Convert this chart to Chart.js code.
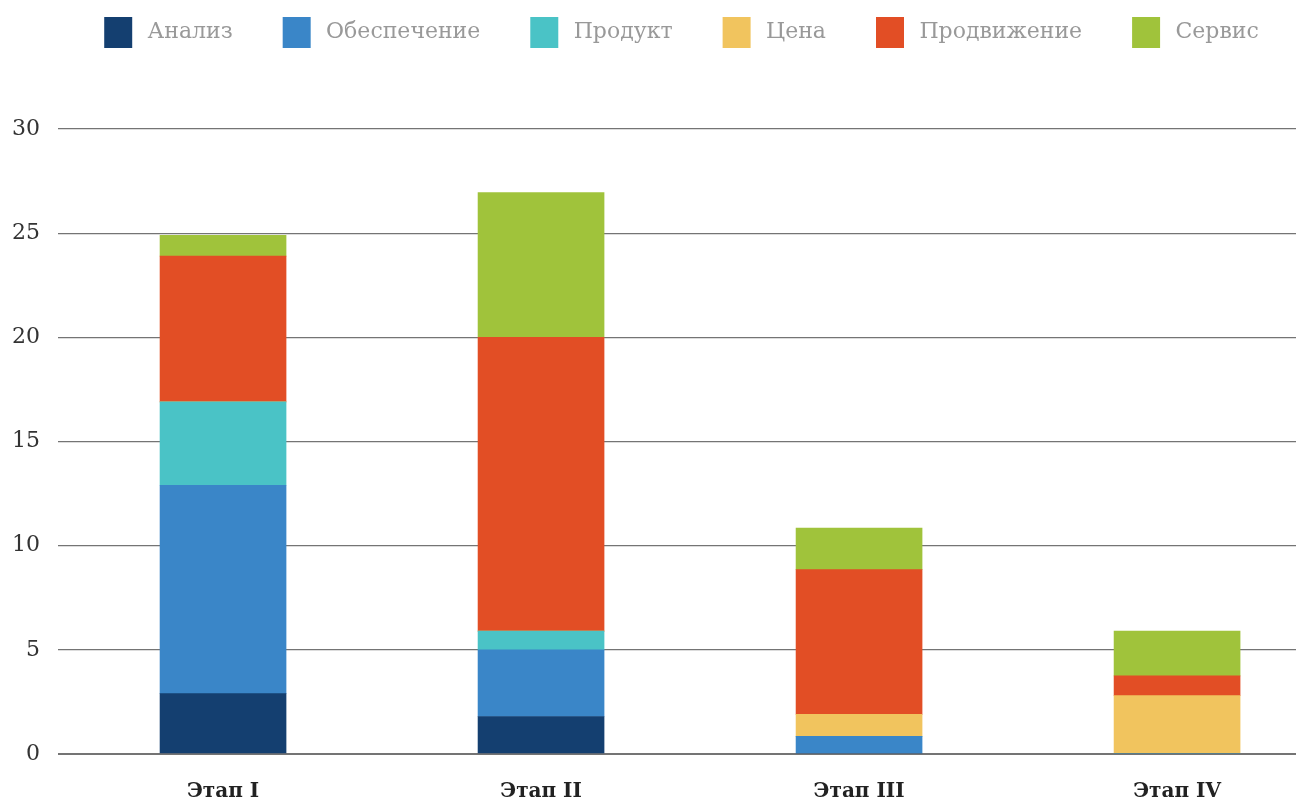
<!DOCTYPE html>
<html>
<head>
<meta charset="utf-8">
<script src="https://cdn.jsdelivr.net/npm/chart.js@4/dist/chart.umd.min.js"></script>
<style>
  html, body { margin: 0; padding: 0; background: #fff; overflow: hidden; }
</style>
</head>
<body>
<canvas id="chart" width="1296" height="800"></canvas>
<script>
// Data
const stages = ['Этап I', 'Этап II', 'Этап III', 'Этап IV'];
const analysis = [2.9, 1.8, 0, 0];
const support = [10, 3.2, 0.85, 0];
const product = [4, 0.9, 0, 0];
const price = [0, 0, 1.05, 2.8];
const promotion = [7, 14.1, 6.95, 0.95];
const service = [1, 6.95, 2, 2.15];
const yTicks = [0, 5, 10, 15, 20, 25, 30];

const seriesNames = ['Анализ', 'Обеспечение', 'Продукт', 'Цена', 'Продвижение', 'Сервис'];
const seriesValues = [analysis, support, product, price, promotion, service];
const seriesColors = ['#143f70', '#3a86c8', '#4ac3c6', '#f1c45e', '#e24e25', '#a0c33b'];

const serif = "'DejaVu Serif', 'Liberation Serif', serif";

// linear x axis so the stage positions can sit where the reference puts them
const datasets = seriesNames.map((name, i) => ({
    label: name,
    data: seriesValues[i].map((v, idx) => ({ x: idx, y: v })),
    backgroundColor: seriesColors[i],
    borderWidth: 0,
    barThickness: 126
}));

// extra room under the legend (legend padding only sets the gap above it),
// and nudge the legend row a bit to the right like in the original
const legendGap = {
    id: 'legendGap',
    beforeInit(chart) {
        const fit = chart.legend.fit;
        chart.legend.fit = function () {
            fit.call(this);
            this.height += 71;
        };
    },
    afterLayout(chart) {
        chart.legend.left += 53;
        chart.legend.right += 53;
    }
};

const ctx = document.getElementById('chart').getContext('2d');
new Chart(ctx, {
    type: 'bar',
    data: { datasets: datasets },
    plugins: [legendGap],
    options: {
        responsive: false,
        animation: false,
        layout: {
            padding: { left: -6, right: 0, top: 0, bottom: -30 }
        },
        plugins: {
            legend: {
                position: 'top',
                labels: {
                    boxWidth: 28,
                    boxHeight: 31,
                    padding: 17,
                    color: '#999999',
                    font: { family: serif, size: 22 },
                    // thin space before the text, wide spaces after it for the item gap
                    generateLabels: chart => Chart.defaults.plugins.legend.labels.generateLabels(chart)
                        .map(item => ({ ...item, text: '\u2009' + item.text + '\u2003\u2002' }))
                }
            },
            tooltip: { enabled: false }
        },
        scales: {
            x: {
                type: 'linear',
                stacked: true,
                offset: false,
                min: -0.519,
                max: 3.374,
                afterBuildTicks: axis => {
                    axis.ticks = stages.map((s, i) => ({ value: i }));
                },
                grid: { display: false, drawTicks: false },
                border: { display: false },
                ticks: {
                    autoSkip: false,
                    maxRotation: 0,
                    padding: 26,
                    color: '#222222',
                    font: { family: serif, size: 20, weight: 'bold' },
                    callback: value => stages[value] || ''
                }
            },
            y: {
                stacked: true,
                min: 0,
                max: 30,
                afterBuildTicks: axis => {
                    axis.ticks = yTicks.map(v => ({ value: v }));
                },
                grid: {
                    color: '#747474',
                    lineWidth: c => c.tick && c.tick.value === 0 ? 2 : 1.3,
                    drawTicks: false
                },
                border: { display: false },
                ticks: {
                    padding: 18,
                    color: '#333333',
                    font: { family: serif, size: 22 }
                }
            }
        }
    }
});
</script>
</body>
</html>
